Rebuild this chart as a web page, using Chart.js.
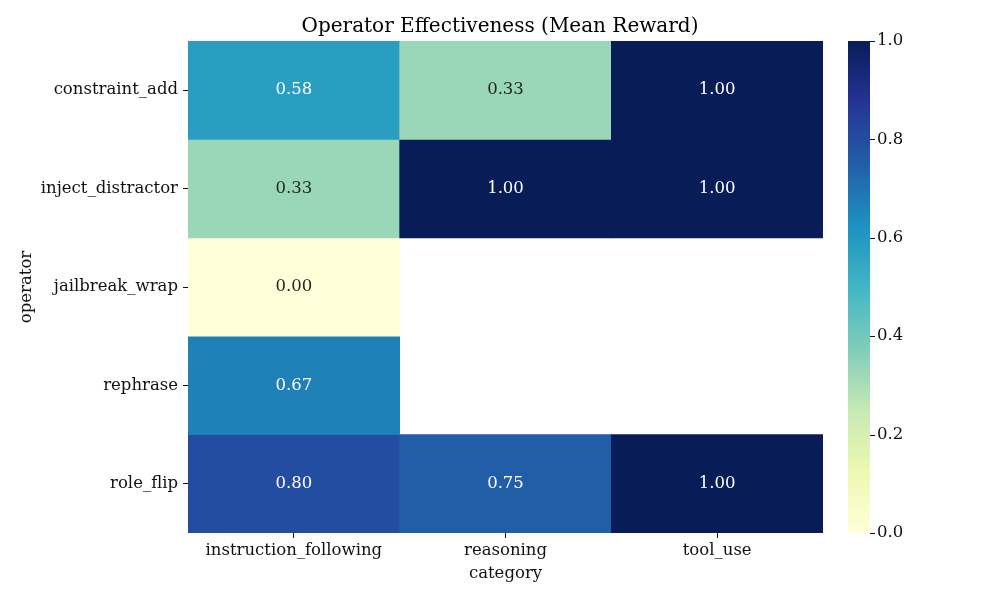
<!DOCTYPE html>
<html>
<head>
<meta charset="utf-8">
<script src="https://cdn.jsdelivr.net/npm/chart.js@4.4.1/dist/chart.umd.min.js"></script>
<style>
  html, body { margin: 0; padding: 0; background: #fff; }
  #wrap { width: 1000px; height: 600px; }
</style>
</head>
<body>
<div id="wrap"><canvas id="heat"></canvas></div>
<script>
// heatmap data
const categories = ['instruction_following', 'reasoning', 'tool_use'];
const operators = ['constraint_add', 'inject_distractor', 'jailbreak_wrap', 'rephrase', 'role_flip'];
const constraintAdd = [0.58, 0.33, 1.00];
const injectDistractor = [0.33, 1.00, 1.00];
const jailbreakWrap = [0.00, null, null];
const rephrase = [0.67, null, null];
const roleFlip = [0.80, 0.75, 1.00];
const rewards = [constraintAdd, injectDistractor, jailbreakWrap, rephrase, roleFlip];
const colorbarTicks = [0.0, 0.2, 0.4, 0.6, 0.8, 1.0];

// YlGnBu control points
const ylgnbu = ['#ffffd9', '#edf8b1', '#c7e9b4', '#7fcdbb', '#41b6c4', '#1d91c0', '#225ea8', '#253494', '#081d58'];
const FONT = "'DejaVu Serif', 'Liberation Serif', serif";
const FS = 16.5;

function hexToRgb(h) {
    return [parseInt(h.slice(1, 3), 16), parseInt(h.slice(3, 5), 16), parseInt(h.slice(5, 7), 16)];
}

function cmapRgb(t) {
    t = Math.max(0, Math.min(1, t));
    const pos = t * (ylgnbu.length - 1);
    const i = Math.min(Math.floor(pos), ylgnbu.length - 2);
    const f = pos - i;
    const a = hexToRgb(ylgnbu[i]);
    const b = hexToRgb(ylgnbu[i + 1]);
    return a.map((v, k) => Math.round(v + (b[k] - v) * f));
}

function cmap(t) {
    const c = cmapRgb(t);
    return `rgb(${c[0]},${c[1]},${c[2]})`;
}

// seaborn-style text contrast
function textColorFor(t) {
    const c = cmapRgb(t).map(v => {
        v /= 255;
        return v <= 0.03928 ? v / 12.92 : Math.pow((v + 0.055) / 1.055, 2.4);
    });
    const lum = 0.2126 * c[0] + 0.7152 * c[1] + 0.0722 * c[2];
    return lum < 0.408 ? '#ffffff' : '#262626';
}

const datasets = operators.map((op, r) => ({
    label: op,
    data: rewards[r].map(v => (v === null ? null : [r, r + 1])),
    backgroundColor: rewards[r].map(v => (v === null ? 'rgba(0,0,0,0)' : cmap(v))),
    borderWidth: 0,
    barPercentage: 1.0,
    categoryPercentage: 1.0,
    grouped: false
}));

// cell annotations + colorbar
const heatmapExtras = {
    id: 'heatmapExtras',
    afterDatasetsDraw(chart) {
        const ctx = chart.ctx;
        ctx.save();
        ctx.font = `${FS}px ${FONT}`;
        ctx.textAlign = 'center';
        ctx.textBaseline = 'middle';
        chart.data.datasets.forEach((ds, r) => {
            const meta = chart.getDatasetMeta(r);
            meta.data.forEach((el, c) => {
                const v = rewards[r][c];
                if (v === null) return;
                const p = el.getCenterPoint();
                ctx.fillStyle = textColorFor(v);
                ctx.fillText(v.toFixed(2), p.x, p.y);
            });
        });
        ctx.restore();
    },
    afterDraw(chart) {
        const cb = chart.scales.cb;
        const ctx = chart.ctx;
        const x0 = cb.left + 25;
        const w = 22;
        const yTop = cb.getPixelForValue(1);
        const yBot = cb.getPixelForValue(0);
        ctx.save();
        const grad = ctx.createLinearGradient(0, yBot, 0, yTop);
        ylgnbu.forEach((c, i) => grad.addColorStop(i / (ylgnbu.length - 1), c));
        ctx.fillStyle = grad;
        ctx.fillRect(x0, yTop, w, yBot - yTop);
        ctx.strokeStyle = '#111';
        ctx.lineWidth = 1;
        ctx.beginPath();
        colorbarTicks.forEach(v => {
            const y = Math.round(cb.getPixelForValue(v)) + 0.5;
            ctx.moveTo(x0 + w, y);
            ctx.lineTo(x0 + w + 5, y);
        });
        ctx.stroke();
        ctx.restore();
    }
};

new Chart(document.getElementById('heat'), {
    type: 'bar',
    data: { labels: categories, datasets },
    options: {
        responsive: true,
        maintainAspectRatio: false,
        animation: false,
        events: [],
        layout: { padding: 0 },
        plugins: {
            legend: { display: false },
            tooltip: { enabled: false },
            title: {
                display: true,
                text: 'Operator Effectiveness (Mean Reward)',
                color: '#000',
                font: { family: FONT, size: 20, weight: 'normal' },
                padding: { top: 15, bottom: 2 }
            }
        },
        scales: {
            x: {
                type: 'category',
                offset: true,
                border: { display: false },
                grid: { offset: false, drawOnChartArea: false, drawTicks: true, tickLength: 5, color: '#111' },
                ticks: { color: '#111', padding: 3, font: { family: FONT, size: FS }, maxRotation: 0 },
                title: {
                    display: true, text: 'category', color: '#111',
                    font: { family: FONT, size: FS }, padding: { top: 0, bottom: 16 }
                },
                afterFit(s) { s.height = 67; }
            },
            y: {
                type: 'linear',
                min: 0,
                max: operators.length,
                reverse: true,
                border: { display: false },
                grid: { drawOnChartArea: false, drawTicks: true, tickLength: 5, color: '#111' },
                afterBuildTicks(s) { s.ticks = operators.map((_, i) => ({ value: i + 0.5 })); },
                ticks: {
                    color: '#111', padding: 5, font: { family: FONT, size: FS },
                    callback: (v, i) => operators[i]
                },
                title: {
                    display: true, text: 'operator', color: '#111',
                    font: { family: FONT, size: FS }, padding: { top: 17, bottom: 0 }
                },
                afterFit(s) { s.width = 188; }
            },
            cb: {
                type: 'linear',
                position: 'right',
                min: 0,
                max: 1,
                border: { display: false },
                grid: { display: true, drawOnChartArea: false, drawTicks: true, tickLength: 53, tickColor: 'rgba(0,0,0,0)' },
                afterBuildTicks(s) { s.ticks = colorbarTicks.map(v => ({ value: v })); },
                ticks: {
                    color: '#111', padding: 1, font: { family: FONT, size: FS },
                    callback: v => v.toFixed(1)
                },
                afterFit(s) { s.width = 177; }
            }
        }
    },
    plugins: [heatmapExtras]
});
</script>
</body>
</html>
